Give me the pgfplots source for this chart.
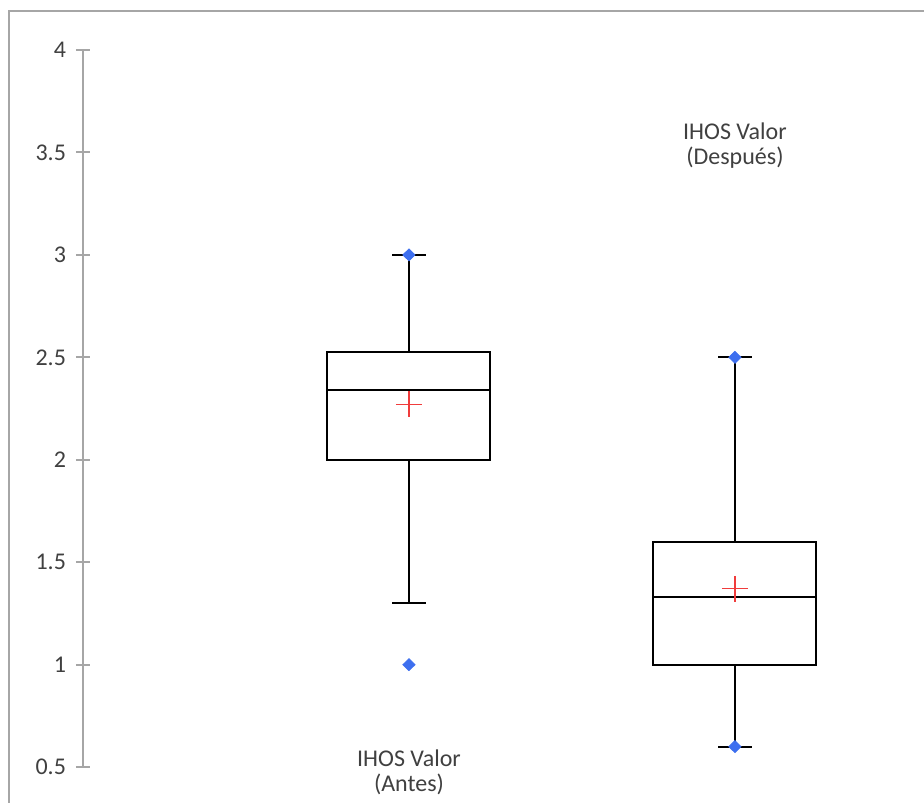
\documentclass[border=0pt]{standalone}
\usepackage{fontspec}
\setmainfont{Carlito}
\usepackage{pgfplots}
\pgfplotsset{compat=1.18}
\usepgfplotslibrary{statistics}

\definecolor{axisgray}{HTML}{A6A6A6}
\definecolor{txtgray}{HTML}{404040}
\definecolor{ptblue}{HTML}{3D6FEF}
\definecolor{meanred}{HTML}{F03C3C}

\begin{document}
\begin{tikzpicture}
\begin{axis}[
    x=163pt, y=102.45pt,
    xmin=0, xmax=2.5, ymin=0.5, ymax=4,
    axis x line=none,
    axis y line*=left,
    axis line style={axisgray, line width=1pt},
    ytick={0.5,1,1.5,2,2.5,3,3.5,4},
    ytick pos=left,
    tick align=center,
    major tick length=7pt,
    tick style={axisgray, line width=1pt},
    yticklabel style={font=\fontsize{12}{14}\selectfont, text=txtgray, xshift=-1.5pt},
    /pgf/number format/assume math mode=true,
    clip=false,
    boxplot/draw direction=y,
]
% Antes
\addplot[black, line width=1pt, boxplot prepared={draw position=1,
    lower whisker=1.3, lower quartile=2.0, median=2.34,
    upper quartile=2.525, upper whisker=3.0,
    box extend=0.5, whisker extend=0.104}] coordinates {};
% Despues
\addplot[black, line width=1pt, boxplot prepared={draw position=2,
    lower whisker=0.6, lower quartile=1.0, median=1.33,
    upper quartile=1.6, upper whisker=2.5,
    box extend=0.5, whisker extend=0.104}] coordinates {};
% means
\addplot[only marks, mark=+, mark size=6.5pt, meanred, line width=0.6pt]
    coordinates {(1,2.27) (2,1.37)};
% min / max
\addplot[only marks, mark=diamond*, mark size=3pt, ptblue, mark options={xscale=1.35}]
    coordinates {(1,3.0) (1,1.0) (2,2.5) (2,0.6)};

\node[align=center, text=txtgray, font=\fontsize{12}{12.5}\selectfont]
    at (axis cs:1,0.476) {IHOS Valor\\(Antes)};
\node[align=center, text=txtgray, font=\fontsize{12}{12.5}\selectfont]
    at (axis cs:2,3.531) {IHOS Valor\\(Después)};

\coordinate (bl) at (axis cs:-0.2546,0.329);
\coordinate (tr) at (axis cs:2.580,4.244);
\draw[axisgray, line width=1pt] (axis cs:-0.227,4.190) rectangle (axis cs:2.75,0.2);
\end{axis}
\pgfresetboundingbox
\path[use as bounding box] (bl) rectangle (tr);
\end{tikzpicture}
\end{document}
